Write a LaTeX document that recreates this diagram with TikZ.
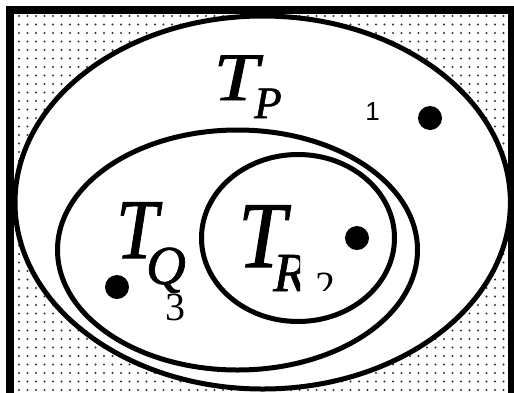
\documentclass[tikz,border=0pt]{standalone}
\usepackage{fontspec}
\setmainfont{Liberation Serif}
\newfontfamily\itserif{Liberation Serif Italic}[FakeBold=1.2]
\newfontfamily\digitsans{Liberation Sans}
\usepackage{graphicx}
\tikzset{
  set/.style={draw=black, line width=5pt, fill=white},
  pt/.style={circle, fill=black, inner sep=0pt, minimum size=24pt},
  lbl/.style={inner sep=0pt, anchor=base},
}
\newcommand{\bigT}[3]{\scalebox{#2}[1]{\itserif\fontsize{#1}{#1}\selectfont #3}}
\begin{document}
\begin{tikzpicture}[x=1pt,y=-1pt]
\useasboundingbox (0,0) rectangle (514,392);
\clip (0,0) rectangle (514,392);
\fill[white] (0,0) rectangle (514,392);
% dotted background
\foreach \i in {0,...,58}{
  \foreach \j in {0,...,45}{
    \fill[black!80] (19+8.5*\i,16+8.5*\j) circle[radius=1.1pt];
  }
}
% frame
\draw[line width=8pt] (9.5,10) rectangle (512,410);
% sets
\draw[set] (262.7,202.5) ellipse[x radius=247.7, y radius=186.5];
\draw[set] (237.5,250) ellipse[x radius=180, y radius=120];
\draw[set] (298,238) ellipse[x radius=96.5, y radius=83.5];
% points
\node[pt] (p1) at (430,118) {};
\node[pt] (p2) at (357,238) {};
\node[pt] (p3) at (117,287) {};
% labels
\node[lbl] (TP) at (236,100) {\bigT{68}{1.18}{T}};
\node[lbl] (P) at (268,118) {\itserif\fontsize{45}{45}\selectfont P};
\node[lbl] (TQ) at (137,258) {\bigT{85}{0.88}{T}};
\node[lbl] (Q) at (166,284) {\itserif\fontsize{55}{55}\selectfont Q};
\node[lbl] (TR) at (262,267) {\bigT{94}{0.91}{T}};
\begin{scope}
\clip (0,0) rectangle (300,392);
\node[lbl] (R) at (290,291) {\itserif\fontsize{55}{55}\selectfont R};
\end{scope}
\node[lbl] (n1) at (372.5,120) {\digitsans\fontsize{26}{26}\selectfont 1};
\node[lbl] (n3) at (175,320) {\fontsize{40}{40}\selectfont 3};
\begin{scope}
\clip (0,0) rectangle (514,290);
\node[lbl] (n2) at (325.5,299) {\fontsize{40}{40}\selectfont 2};
\end{scope}
\end{tikzpicture}
\end{document}
